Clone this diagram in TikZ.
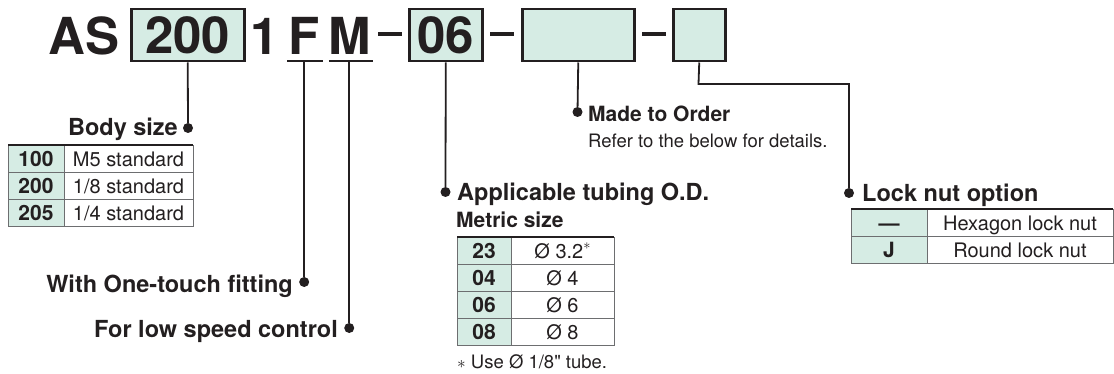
\documentclass[tikz,border=0pt]{standalone}
\usepackage{fontspec}
\setmainfont{TeX Gyre Heros}
\usetikzlibrary{positioning}
\definecolor{asink}{HTML}{231F20}
\definecolor{asgreen}{HTML}{D6ECE4}
\definecolor{asgrid}{HTML}{6D6E70}

\begin{document}
\begin{tikzpicture}[x=1pt, y=-1pt, color=asink,
  big/.style={font=\fontsize{51}{51}\selectfont\bfseries, inner sep=0pt, anchor=base west},
  codebox/.style={draw=asink, line width=2.5pt, fill=asgreen, minimum height=52pt, inner sep=0pt,
    anchor=north west, font=\fontsize{51}{51}\selectfont\bfseries},
  dashbar/.style={fill=asink, minimum width=24pt, minimum height=4pt, inner sep=0pt},
  uline/.style={line width=2.5pt},
  leader/.style={line width=1.8pt},
  dot/.style={circle, fill=asink, inner sep=0pt, minimum size=10pt},
  head/.style={font=\fontsize{23.5}{28}\selectfont\bfseries, inner sep=0pt},
  subhead/.style={font=\fontsize{21}{24}\selectfont\bfseries, inner sep=0pt},
  note/.style={font=\fontsize{18.5}{22}\selectfont, inner sep=0pt, anchor=base west},
  cellnum/.style={draw=asgrid, line width=0.8pt, fill=asgreen, minimum height=27pt, inner sep=0pt,
    outer sep=0pt, anchor=north west, text height=15.5pt, text depth=0pt,
    font=\fontsize{21}{21}\selectfont\bfseries},
  celltxt/.style={draw=asgrid, line width=0.8pt, fill=white, minimum height=27pt, inner sep=0pt,
    outer sep=0pt, anchor=north west, text height=15.5pt, text depth=0pt,
    font=\fontsize{20}{20}\selectfont},
  topline/.style={line width=2pt}]
  \useasboundingbox (0,0) rectangle (1114,374);

  % part number
  \node[big] (lAS) at (48,55) {AS};
  \node[codebox, minimum width=113pt] (b200) at (130,8) {200};
  \node[big] (l1) at (250,55) {1};
  \node[big] (lF) at (288.4,55) {F};
  \node[big] (lM) at (327.8,55) {M};
  \node[dashbar] (m1) at (390,34.5) {};
  \node[codebox, minimum width=73pt] (b06) at (408,8) {06};
  \node[dashbar] (m2) at (502,34.5) {};
  \node[codebox, minimum width=112pt] (border) at (521,8) {};
  \node[dashbar] (m3) at (654,34.5) {};
  \node[codebox, minimum width=52pt] (bnut) at (672,8) {};
  \draw[uline] ([xshift=-1pt, yshift=-6pt]lF.base west) -- ([xshift=3pt, yshift=-6pt]lF.base east);
  \draw[uline] ([xshift=1pt, yshift=-6pt]lM.base west) -- ([xshift=2pt, yshift=-6pt]lM.base east);

  % leaders
  \node[dot] (dbody) at (188,128) {};
  \node[dot] (dF) at (lF.base |- dbody) [yshift=-154pt] {};
  \node[dot] (dM) at (lM.base |- dbody) [yshift=-200pt] {};
  \node[dot] (dtube) at (445.5,192) {};
  \node[dot] (dorder) at (577.5,112) {};
  \node[dot] (dnut) at (849,193) {};
  \coordinate (knee) at (698.5,84);
  \draw[leader] (b200.south) -- (dbody);
  \draw[leader] ([yshift=-6pt]lF.base) -- (dF);
  \draw[leader] ([yshift=-6pt]lM.base) -- (dM);
  \draw[leader] (b06.south) -- (dtube);
  \draw[leader] (border.south) -- (dorder);
  \draw[leader] (bnut.south) -- (knee) -| (dnut);

  % labels
  \node[head, anchor=base east] (lbody) at (178,136) {Body size};
  \node[head, anchor=base east] (lone) at (293,292) {With One-touch fitting};
  \node[head, anchor=base east] (llow) at (338,337) {For low speed control};
  \node[head, anchor=base west] (ltube) at (457,201) {Applicable tubing O.D.};
  \node[subhead, anchor=base west] (lmetric) at (456,228) {Metric size};
  \node[subhead, anchor=base west] (lorder) at (588,122) {Made to Order};
  \node[note] (lrefer) at (588,148) {Refer to the below for details.};
  \node[head, anchor=base west] (lnut) at (862,202) {Lock nut option};
  \node[note] (lfoot) at (457,368) {$\ast$ Use Ø 1/8\textquotedbl{} tube.};

  % body size table
  \foreach \n/\t [count=\i from 0] in {100/M5 standard, 200/{1/8 standard}, 205/{1/4 standard}} {
    \node[cellnum, minimum width=56pt] (bsn\i) at (8,145+27*\i) {\n};
    \node[celltxt, minimum width=129pt, right=0pt of bsn\i] (bst\i) {\t};
  }
  \draw[topline] (bsn0.north west) -- (bst0.north east);

  % tubing table
  \foreach \n/\t [count=\i from 0] in {23/{Ø 3.2\raisebox{9pt}{\fontsize{15}{15}\selectfont$\ast$}}, 04/Ø 4, 06/Ø 6, 08/Ø 8} {
    \node[cellnum, minimum width=54pt] (tbn\i) at (457,237+27*\i) {\n};
    \node[celltxt, minimum width=103pt, right=0pt of tbn\i] (tbt\i) {\t};
  }
  \draw[topline] (tbn0.north west) -- (tbt0.north east);

  % lock nut table
  \foreach \n/\t [count=\i from 0] in {---/Hexagon lock nut, J/Round lock nut} {
    \node[cellnum, minimum width=76pt] (lkn\i) at (851,209+27*\i) {\n};
    \node[celltxt, minimum width=186pt, right=0pt of lkn\i] (lkt\i) {\t};
  }
  \draw[topline] (lkn0.north west) -- (lkt0.north east);
\end{tikzpicture}
\end{document}
